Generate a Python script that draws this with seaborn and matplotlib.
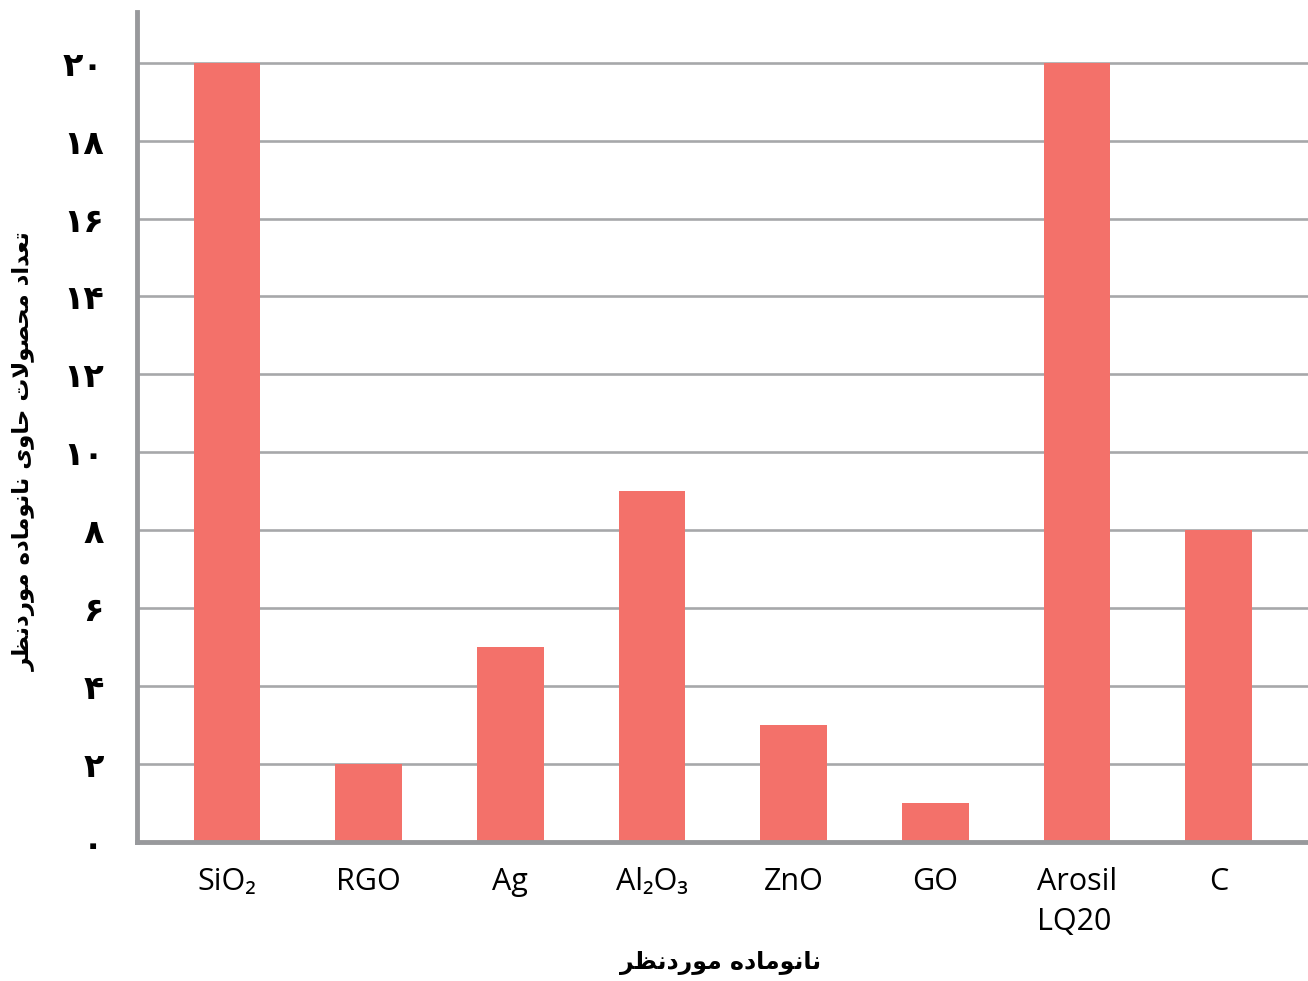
import matplotlib
matplotlib.use("Agg")
import matplotlib.pyplot as plt
import seaborn as sns
import pandas as pd

# data
materials = ["SiO₂", "RGO", "Ag", "Al₂O₃", "ZnO", "GO", "Arosil\nLQ20", "C"]
counts = [20, 2, 5, 9, 3, 1, 20, 8]
yticks = [0, 2, 4, 6, 8, 10, 12, 14, 16, 18, 20]

xlabel_fa = "نانوماده موردنظر"
ylabel_fa = "تعداد محصولات حاوی نانوماده موردنظر"

# minimal persian shaping (matplotlib has no complex text layout)
FORMS = {
    "ا": ("\uFE8D", "\uFE8E", None, None),
    "د": ("\uFEA9", "\uFEAA", None, None),
    "ر": ("\uFEAD", "\uFEAE", None, None),
    "و": ("\uFEED", "\uFEEE", None, None),
    "ت": ("\uFE95", "\uFE96", "\uFE97", "\uFE98"),
    "ع": ("\uFEC9", "\uFECA", "\uFECB", "\uFECC"),
    "م": ("\uFEE1", "\uFEE2", "\uFEE3", "\uFEE4"),
    "ح": ("\uFEA1", "\uFEA2", "\uFEA3", "\uFEA4"),
    "ص": ("\uFEB9", "\uFEBA", "\uFEBB", "\uFEBC"),
    "ل": ("\uFEDD", "\uFEDE", "\uFEDF", "\uFEE0"),
    "ن": ("\uFEE5", "\uFEE6", "\uFEE7", "\uFEE8"),
    "ه": ("\uFEE9", "\uFEEA", "\uFEEB", "\uFEEC"),
    "ظ": ("\uFEC5", "\uFEC6", "\uFEC7", "\uFEC8"),
    "ی": ("\uFBFC", "\uFBFD", "\uFBFE", "\uFBFF"),
}


def shape(text):
    out = []
    for word in text.split(" "):
        chars = list(word)
        res = []
        i = 0
        while i < len(chars):
            c = chars[i]
            prev_joins = i > 0 and FORMS[chars[i - 1]][2] is not None
            if c == "ل" and i + 1 < len(chars) and chars[i + 1] == "ا":
                res.append("\uFEFC" if prev_joins else "\uFEFB")
                i += 2
                continue
            nxt = i + 1 < len(chars)
            can_left = FORMS[c][2] is not None
            if prev_joins and nxt and can_left:
                g = FORMS[c][3]
            elif prev_joins:
                g = FORMS[c][1]
            elif nxt and can_left:
                g = FORMS[c][2]
            else:
                g = FORMS[c][0]
            res.append(g)
            i += 1
        out.append("".join(res))
    return " ".join(out)[::-1]


def fa_digits(n):
    return str(n).translate(str.maketrans("0123456789", "۰۱۲۳۴۵۶۷۸۹"))


df = pd.DataFrame({"material": materials, "count": counts})

sns.set_theme(style="white")
plt.rcParams["font.family"] = ["Open Sans", "DejaVu Sans"]

fig = plt.figure(figsize=(13.08, 9.81), dpi=100)
ax = fig.add_axes([0.1047, 0.1417, 0.8953, 0.8461])

ax.set_axisbelow(True)
ax.yaxis.grid(True, color="#a7a8aa", linewidth=1.9)
sns.barplot(data=df, x="material", y="count", color="#f3716a", width=0.47,
            saturation=1, linewidth=0, ax=ax)

ax.set_ylim(0, 21.3)
ax.set_xlim(-0.636, 7.63)
ax.set_yticks(yticks)
ax.set_yticklabels([fa_digits(v) for v in yticks], fontsize=24,
                   fontweight="bold", family="DejaVu Sans", color="black")
ax.set_xticks(range(len(materials)))
ax.set_xticklabels(materials, fontsize=22, multialignment="left",
                   color="black", linespacing=1.45)
ax.tick_params(axis="y", length=0, pad=24)
ax.tick_params(axis="x", length=0, pad=18)

for s in ["top", "right"]:
    ax.spines[s].set_visible(False)
for s in ["left", "bottom"]:
    ax.spines[s].set_color("#98999c")
    ax.spines[s].set_linewidth(3.5)

ax.set_xlabel("")
ax.set_ylabel("")
fig.text(0.551, 0.006, shape(xlabel_fa), ha="center", va="bottom",
         fontsize=17, fontweight="bold", family="DejaVu Sans", color="black")
fig.text(0.019, 0.54, shape(ylabel_fa), ha="center", va="center",
         rotation=90, fontsize=16.5, fontweight="bold", family="DejaVu Sans",
         color="black")

fig.savefig("out.png", dpi=100)
